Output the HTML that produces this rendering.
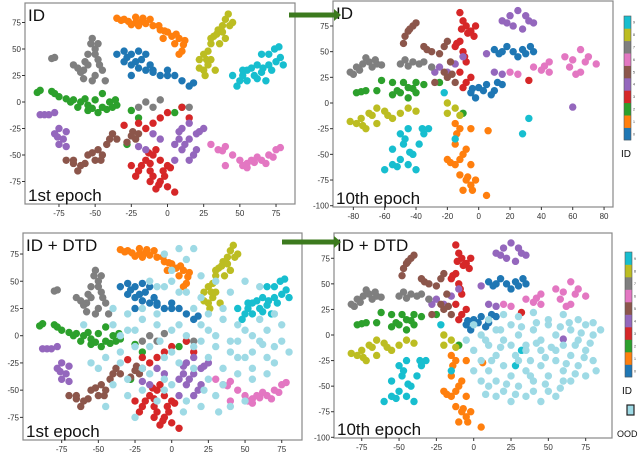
<!DOCTYPE html>
<html><head><meta charset="utf-8"><style>
html,body{margin:0;padding:0;background:#fff;width:640px;height:453px;overflow:hidden}
svg{display:block;font-family:"Liberation Sans",sans-serif}
</style></head><body>
<svg id="c" width="640" height="453"></svg>
<script>
// ---- data (t-SNE coordinates per class) ----
const classColors=["#1f77b4","#ff7f0e","#2ca02c","#d62728","#9467bd","#8c564b","#e377c2","#7f7f7f","#bcbd22","#17becf"];
const oodColor="#9edae5";
const ep1Blue=[[-35,45],[-30,48],[-25,45],[-20,48],[-15,45],[-30,38],[-25,35],[-20,32],[-15,30],[-10,30],[-5,25],[0,25],[0,30],[-10,28],[5,25],[10,20],[15,15],[18,18],[-25,25],[-28,42],[-18,40],[-12,35],[-22,38]];
const ep1Orange=[[-35,79],[-30,78],[-27,76],[-22,75],[-18,76],[-15,74],[-22,80],[-12,78],[-10,72],[-5,68],[0,66],[3,62],[8,60],[12,58],[5,55],[10,48],[8,45],[-3,60],[-6,72],[-2,67],[-32,77],[-25,73],[-17,79],[-20,72],[6,64],[11,54]];
const ep1Green=[[-90,9],[-80,10],[-70,3],[-65,2],[-60,0],[-55,-3],[-50,2],[-45,-5],[-40,0],[-35,-3],[-38,-5],[-45,8],[-55,-8],[-62,-5],[-75,5],[-48,-10],[-25,-8],[-20,-15],[5,-10],[10,-5],[-28,-40],[-67,0],[-57,3],[-52,-6],[-42,-7],[-36,2],[-88,11],[-78,8]];
const ep1Red=[[-25,-60],[-20,-65],[-15,-55],[-10,-50],[-8,-45],[-5,-55],[0,-60],[-10,-70],[-5,-75],[0,-80],[5,-85],[-8,-82],[-2,-70],[-20,-20],[-15,-25],[-10,-20],[-5,-15],[0,-10],[10,-5],[15,-15],[-30,-22],[-12,-65],[-22,-70],[-18,-60],[-12,-58],[-3,-65],[2,-62],[-6,-78],[-12,-75],[-13,-48]];
const ep1Purple=[[-88,-12],[-82,-12],[-78,-10],[-75,-25],[-78,-30],[-72,-35],[-75,-40],[-70,-42],[-70,-28],[-10,-30],[-5,-35],[5,-40],[10,-45],[15,-35],[20,-30],[15,-20],[10,-25],[20,-45],[25,-25],[15,-55],[5,-55],[-15,-45],[-20,-42],[-85,-12],[-76,-33],[8,-35],[12,-40],[18,-50],[22,-28],[8,-28]];
const ep1Brown=[[-70,-55],[-65,-58],[-62,-65],[-60,-60],[-55,-50],[-50,-55],[-48,-45],[-42,-40],[-45,-50],[-38,-30],[-35,-35],[-25,-32],[-22,-35],[-20,-30],[-28,-38],[-65,-55],[-52,-48],[-46,-55],[-57,-58],[-40,-35],[-24,-28]];
const ep1Pink=[[30,-40],[35,-45],[40,-42],[45,-50],[50,-55],[55,-58],[60,-57],[65,-55],[70,-50],[75,-45],[78,-43],[55,-62],[40,-60],[62,-52],[52,-60],[58,-55],[68,-58],[73,-52],[38,-46]];
const ep1Gray=[[-55,45],[-50,50],[-52,60],[-48,55],[-48,40],[-55,35],[-58,30],[-60,28],[-50,25],[-45,30],[-43,20],[-52,20],[-65,35],[-78,42],[-80,41],[-58,22],[-20,-5],[-15,0],[-10,-5],[-5,2],[15,-5],[-53,55],[-50,45],[-57,38],[-47,35],[-62,32]];
const ep1Olive=[[25,45],[22,40],[28,35],[25,30],[22,32],[30,40],[30,55],[32,62],[35,68],[38,72],[40,78],[42,83],[45,75],[40,60],[36,55],[28,48],[33,30],[26,25],[34,64],[38,66],[43,72],[30,60],[27,40]];
const ep1Cyan=[[52,30],[58,32],[62,35],[65,28],[70,35],[75,38],[78,42],[80,35],[74,50],[70,45],[60,25],[55,20],[50,20],[45,25],[48,15],[68,20],[65,45],[72,30],[77,52],[66,32],[55,30],[52,25],[62,22]];
const ep10Blue=[[10,52],[15,50],[18,55],[22,50],[25,45],[30,48],[33,55],[35,50],[-5,10],[0,15],[5,18],[10,12],[15,18],[-2,5],[8,8],[13,48],[28,52],[3,12],[12,20],[-4,14]];
const ep10Orange=[[-12,-25],[-15,-40],[-20,-55],[-15,-60],[-10,-50],[-8,-45],[-12,-70],[-8,-75],[-5,-80],[-2,-75],[-10,-85],[5,-90],[-5,-60],[6,-27],[-5,-25],[-15,-20],[-18,-58],[-12,-55],[-7,-72],[-4,-85],[-14,-30]];
const ep10Green=[[-78,10],[-72,12],[-65,12],[-55,20],[-50,10],[-45,15],[-40,20],[-35,18],[-40,10],[-45,5],[-55,8],[-62,22],[-25,20],[-10,-10],[-75,11],[-48,20],[-42,14],[-52,12]];
const ep10Red=[[-12,88],[-10,80],[-8,75],[-5,70],[-3,65],[-12,60],[-15,55],[-10,50],[-8,40],[-12,30],[-10,15],[-8,20],[-2,75],[32,22],[-5,25],[-7,68],[-11,72],[-14,58],[-9,45]];
const ep10Purple=[[15,80],[20,85],[25,90],[30,85],[35,78],[28,72],[22,75],[-30,35],[-25,35],[-20,30],[-15,38],[-10,45],[5,48],[10,30],[15,28],[60,-4],[18,78],[32,80],[-28,30]];
const ep10Brown=[[-48,58],[-45,70],[-42,75],[-40,78],[-47,65],[-35,55],[-30,50],[-25,48],[-22,55],[-20,60],[-18,40],[-22,30],[-28,20],[-20,25],[-15,20],[-33,52],[-44,72],[-17,28]];
const ep10Pink=[[20,30],[25,28],[35,35],[40,32],[45,30],[45,40],[55,45],[60,42],[65,52],[70,45],[75,38],[65,30],[58,35],[68,40],[42,36],[62,28]];
const ep10Gray=[[-82,30],[-78,35],[-74,38],[-70,40],[-68,35],[-65,38],[-62,37],[-80,28],[-72,44],[-50,38],[-47,42],[-42,40],[-38,38],[-35,40],[-30,35],[-76,32],[-66,42],[-45,36]];
const ep10Olive=[[-82,-18],[-78,-20],[-72,-25],[-70,-10],[-65,-5],[-60,-8],[-55,-15],[-50,-10],[-45,-5],[-40,-8],[-75,-15],[-65,-20],[-20,0],[-15,-5],[-12,-12],[-20,-10],[-68,-12],[-58,-12],[-74,-22]];
const ep10Cyan=[[-60,-65],[-55,-60],[-50,-55],[-45,-60],[-40,-65],[-42,-50],[-48,-40],[-50,-30],[-45,-25],[-35,-30],[-32,-25],[-38,-40],[-55,-45],[28,-30],[32,-15],[-22,10],[-15,-35],[-52,-62],[-44,-48],[-36,-25],[-47,-35]];
const ood1=[[-30,20],[-20,15],[-10,10],[0,5],[10,0],[20,-5],[30,-10],[40,-15],[50,-20],[60,-5],[70,-10],[65,5],[55,0],[45,10],[35,15],[25,20],[15,25],[5,40],[-5,45],[-15,50],[0,60],[10,70],[20,55],[30,50],[40,40],[50,50],[60,45],[5,80],[-40,25],[-45,-20],[-35,-15],[-25,-10],[-15,-35],[-5,-40],[5,-25],[15,-30],[25,-40],[35,-30],[45,-35],[55,-40],[65,-35],[-40,-45],[-30,-55],[-20,-50],[-10,-60],[0,-45],[10,-60],[20,-65],[30,-55],[40,-65],[50,-60],[-50,-30],[-45,-65],[-25,-75],[-35,0],[-30,5],[-20,-30],[30,0],[40,-5],[50,5],[60,15],[70,20],[75,-5],[80,-15],[-10,20],[0,-15],[20,10],[-60,10],[-55,-25],[35,25],[-5,-20],[-25,5],[-15,-10],[5,10],[15,-10],[25,5],[45,-5],[55,-15],[65,-20],[75,10],[-35,-25],[-5,-50],[25,-20],[35,-45],[45,-20],[-30,-40],[-40,10],[10,40],[20,35],[-10,45],[0,50],[-5,75],[15,80],[55,-30],[70,-25],[62,-8],[-20,25],[-8,-5],[22,-50],[8,-70],[32,-70]];
const ood10=[[0,10],[5,0],[10,-10],[15,5],[20,-5],[25,10],[30,0],[35,-10],[40,5],[45,-5],[50,10],[55,0],[60,-10],[65,5],[70,-5],[75,10],[80,0],[85,5],[0,-15],[5,-25],[10,-35],[15,-20],[20,-30],[25,-40],[30,-25],[35,-35],[40,-45],[45,-30],[50,-40],[55,-25],[60,-35],[65,-20],[70,-30],[75,-15],[80,-25],[10,-50],[15,-60],[20,-55],[25,-65],[30,-50],[35,-60],[40,-55],[45,-65],[50,-55],[55,-60],[60,-45],[5,-45],[0,-35],[10,15],[20,20],[30,18],[40,22],[50,15],[60,20],[70,15],[80,12],[25,-10],[45,-15],[65,-45],[-5,-5],[82,-35],[15,-45],[35,-15],[55,-15],[75,-40],[8,-5],[12,-25],[18,-12],[28,-20],[32,8],[38,-25],[42,-8],[48,-48],[52,-12],[58,8],[62,-28],[68,-10],[72,2],[78,-8],[22,-48],[28,-58],[38,-40],[48,-22],[58,-52],[68,-38],[18,5],[8,-58],[42,12],[64,12],[74,-22]];
const ep1Classes=[ep1Blue,ep1Orange,ep1Green,ep1Red,ep1Purple,ep1Brown,ep1Pink,ep1Gray,ep1Olive,ep1Cyan];
const ep10Classes=[ep10Blue,ep10Orange,ep10Green,ep10Red,ep10Purple,ep10Brown,ep10Pink,ep10Gray,ep10Olive,ep10Cyan];
const ticks75=[-75,-50,-25,0,25,50,75];
const ticks10x=[-80,-60,-40,-20,0,20,40,60,80];
const ticks10y=[-100,-75,-50,-25,0,25,50,75];
const ticks10xB=[-75,-50,-25,0,25,50,75];

const svg=document.getElementById('c');
const NS='http://www.w3.org/2000/svg';
function mk(tag,attrs,parent){const e=document.createElementNS(NS,tag);for(const k in attrs)e.setAttribute(k,attrs[k]);(parent||svg).appendChild(e);return e;}

function panel(p){
  const g=mk('g',{});
  
  
  const sx=v=>p.x0+v*p.kx, sy=v=>p.y0-v*p.ky;
  const fr=mk('rect',{x:p.l,y:p.t,width:p.r-p.l,height:p.b-p.t,fill:'#fff',stroke:'#888','stroke-width':1.2},g);
  
  
  p.xt.forEach(v=>{const X=sx(v);mk('line',{x1:X,x2:X,y1:p.b,y2:p.b+3,stroke:'#333'},g);
    const t=mk('text',{x:X,y:p.b+12,'font-size':8,'text-anchor':'middle',fill:'#333'},g);t.textContent=v;
    
    });
  p.yt.forEach(v=>{const Y=sy(v);mk('line',{x1:p.l-3,x2:p.l,y1:Y,y2:Y,stroke:'#333'},g);
    const t=mk('text',{x:p.l-4,y:Y+3,'font-size':8,'text-anchor':'end',fill:'#333'},g);t.textContent=v;
    
    });
  const dots=mk('g',{},g);
  
  
  const drawSet=(pts,col,nm)=>pts.forEach(([a,b])=>{const c=mk('circle',{cx:sx(a),cy:sy(b),r:3.7,fill:col},dots);
    
    });
  p.classes.forEach((pts,i)=>drawSet(pts,classColors[i],'point-class-'+i));
  if(p.ood)drawSet(p.ood,oodColor,'point-ood');
  const t1=mk('text',{x:p.l+3,y:p.t+18,'font-size':17,fill:'#111'},g);t1.textContent=p.title;
  
  
  const t2=mk('text',{x:p.l+3,y:p.b-3,'font-size':17,fill:'#111'},g);t2.textContent=p.epoch;
  
  
}
panel({name:'panel-id-epoch1',l:25,r:295,t:3,b:204,x0:167.5,kx:1.447,y0:102,ky:1.06,xt:ticks75,yt:ticks75,classes:ep1Classes,title:'ID',epoch:'1st epoch'});
panel({name:'panel-id-epoch10',l:333,r:613,t:1,b:207,x0:478.7,kx:1.567,y0:103,ky:1.027,xt:ticks10x,yt:ticks10y,classes:ep10Classes,title:'ID',epoch:'10th epoch'});
panel({name:'panel-dtd-epoch1',l:23,r:302,t:233,b:440,x0:171.7,kx:1.467,y0:335.7,ky:1.089,xt:ticks75,yt:ticks75,classes:ep1Classes,ood:ood1,title:'ID + DTD',epoch:'1st epoch'});
panel({name:'panel-dtd-epoch10',l:334,r:612,t:233,b:438,x0:473.7,kx:1.493,y0:335,ky:1.023,xt:ticks10xB,yt:ticks10y,classes:ep10Classes,ood:ood10,title:'ID + DTD',epoch:'10th epoch'});

function arrow(x1,x2,y,nm){const g=mk('g',{});
  
  
  mk('rect',{x:x1,y:y-2.5,width:x2-x1-6,height:5,fill:'#3c7a1e'},g);
  mk('polygon',{points:`${x2-7},${y-6} ${x2},${y} ${x2-7},${y+6}`,fill:'#3c7a1e'},g);}
arrow(289,341,15,'epoch-arrow-top');
arrow(282,341,242,'epoch-arrow-bottom');

function colorbar(x,y0,y1,nm,lx,ly){const g=mk('g',{});
  
  
  const h=(y1-y0)/10;
  classColors.forEach((c,i)=>{mk('rect',{x:x,y:y1-(i+1)*h,width:7,height:h+0.3,fill:c},g);
    const t=mk('text',{x:x+9,y:y1-i*h-h/2+1.5,'font-size':3.5,fill:'#333'},g);t.textContent=i;});
  mk('rect',{x:x,y:y0,width:7,height:y1-y0,fill:'none',stroke:'#555','stroke-width':0.6},g);
  const t=mk('text',{x:lx,y:ly,'font-size':10,fill:'#111'},g);t.textContent='ID';
  
  }
colorbar(624,16,140,'colorbar-top',621,157);
colorbar(625,252,377,'colorbar-bottom',622,394);
const sq=mk('rect',{x:627,y:405,width:7,height:10,fill:oodColor,stroke:'#222','stroke-width':1.2});


const oo=mk('text',{x:617,y:437,'font-size':9,fill:'#111'});oo.textContent='OOD';


</script>
</body></html>
